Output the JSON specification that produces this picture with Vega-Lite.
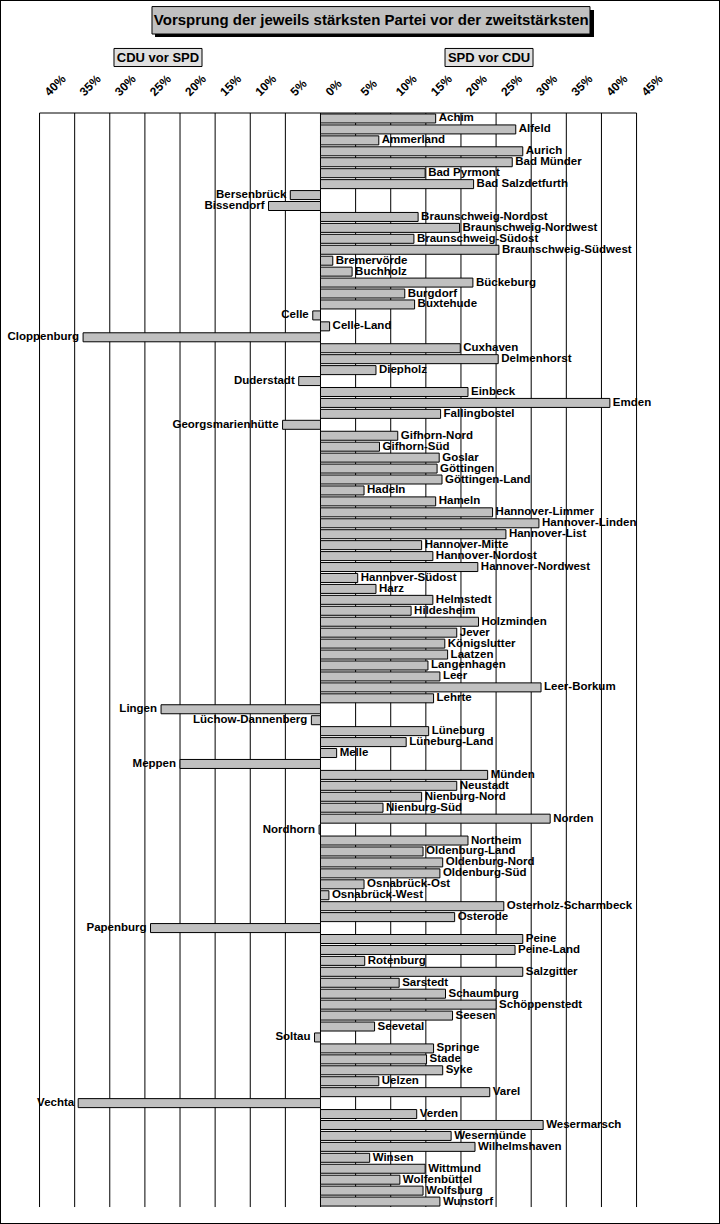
{
  "$schema": "https://vega.github.io/schema/vega-lite/v6.json",
  "width": 720,
  "height": 1224,
  "autosize": {"type": "fit", "contains": "padding"},
  "padding": 0,
  "background": "white",
  "config": {"view": {"stroke": "black", "strokeWidth": 2}, "font": "Liberation Sans", "axis": {"disable": true}},
  "datasets": {
    "wk": [
      {"name": "Achim", "v": 16.4},
      {"name": "Alfeld", "v": 27.8},
      {"name": "Ammerland", "v": 8.3},
      {"name": "Aurich", "v": 28.8},
      {"name": "Bad Münder", "v": 27.3},
      {"name": "Bad Pyrmont", "v": 14.9},
      {"name": "Bad Salzdetfurth", "v": 21.8},
      {"name": "Bersenbrück", "v": -4.3},
      {"name": "Bissendorf", "v": -7.4},
      {"name": "Braunschweig-Nordost", "v": 13.9},
      {"name": "Braunschweig-Nordwest", "v": 19.8},
      {"name": "Braunschweig-Südost", "v": 13.3},
      {"name": "Braunschweig-Südwest", "v": 25.4},
      {"name": "Bremervörde", "v": 1.75},
      {"name": "Buchholz", "v": 4.5},
      {"name": "Bückeburg", "v": 21.7},
      {"name": "Burgdorf", "v": 12.0},
      {"name": "Buxtehude", "v": 13.4},
      {"name": "Celle", "v": -1.1},
      {"name": "Celle-Land", "v": 1.3},
      {"name": "Cloppenburg", "v": -33.8},
      {"name": "Cuxhaven", "v": 19.9},
      {"name": "Delmenhorst", "v": 25.3},
      {"name": "Diepholz", "v": 7.9},
      {"name": "Duderstadt", "v": -3.1},
      {"name": "Einbeck", "v": 21.0},
      {"name": "Emden", "v": 41.2},
      {"name": "Fallingbostel", "v": 17.1},
      {"name": "Georgsmarienhütte", "v": -5.4},
      {"name": "Gifhorn-Nord", "v": 11.0},
      {"name": "Gifhorn-Süd", "v": 8.4},
      {"name": "Goslar", "v": 16.9},
      {"name": "Göttingen", "v": 16.6},
      {"name": "Göttingen-Land", "v": 17.3},
      {"name": "Hadeln", "v": 6.2},
      {"name": "Hameln", "v": 16.4},
      {"name": "Hannover-Limmer", "v": 24.5},
      {"name": "Hannover-Linden", "v": 31.1},
      {"name": "Hannover-List", "v": 26.4},
      {"name": "Hannover-Mitte", "v": 14.4},
      {"name": "Hannover-Nordost", "v": 16.0},
      {"name": "Hannover-Nordwest", "v": 22.4},
      {"name": "Hannover-Südost", "v": 5.3},
      {"name": "Harz", "v": 7.9},
      {"name": "Helmstedt", "v": 16.0},
      {"name": "Hildesheim", "v": 12.9},
      {"name": "Holzminden", "v": 22.5},
      {"name": "Jever", "v": 19.4},
      {"name": "Königslutter", "v": 17.7},
      {"name": "Laatzen", "v": 18.1},
      {"name": "Langenhagen", "v": 15.3},
      {"name": "Leer", "v": 17.0},
      {"name": "Leer-Borkum", "v": 31.4},
      {"name": "Lehrte", "v": 16.1},
      {"name": "Lingen", "v": -22.7},
      {"name": "Lüchow-Dannenberg", "v": -1.3},
      {"name": "Lüneburg", "v": 15.4},
      {"name": "Lüneburg-Land", "v": 12.2},
      {"name": "Melle", "v": 2.3},
      {"name": "Meppen", "v": -20.0},
      {"name": "Münden", "v": 23.8},
      {"name": "Neustadt", "v": 19.4},
      {"name": "Nienburg-Nord", "v": 14.4},
      {"name": "Nienburg-Süd", "v": 8.9},
      {"name": "Norden", "v": 32.7},
      {"name": "Nordhorn", "v": -0.2},
      {"name": "Northeim", "v": 21.0},
      {"name": "Oldenburg-Land", "v": 14.6},
      {"name": "Oldenburg-Nord", "v": 17.4},
      {"name": "Oldenburg-Süd", "v": 17.0},
      {"name": "Osnabrück-Ost", "v": 6.2},
      {"name": "Osnabrück-West", "v": 1.2},
      {"name": "Osterholz-Scharmbeck", "v": 26.1},
      {"name": "Osterode", "v": 19.1},
      {"name": "Papenburg", "v": -24.2},
      {"name": "Peine", "v": 28.8},
      {"name": "Peine-Land", "v": 27.7},
      {"name": "Rotenburg", "v": 6.3},
      {"name": "Salzgitter", "v": 28.8},
      {"name": "Sarstedt", "v": 11.2},
      {"name": "Schaumburg", "v": 17.8},
      {"name": "Schöppenstedt", "v": 25.0},
      {"name": "Seesen", "v": 18.8},
      {"name": "Seevetal", "v": 7.7},
      {"name": "Soltau", "v": -0.85},
      {"name": "Springe", "v": 16.1},
      {"name": "Stade", "v": 15.1},
      {"name": "Syke", "v": 17.4},
      {"name": "Uelzen", "v": 8.3},
      {"name": "Varel", "v": 24.1},
      {"name": "Vechta", "v": -34.5},
      {"name": "Verden", "v": 13.7},
      {"name": "Wesermarsch", "v": 31.7},
      {"name": "Wesermünde", "v": 18.6},
      {"name": "Wilhelmshaven", "v": 22.0},
      {"name": "Winsen", "v": 7.0},
      {"name": "Wittmund", "v": 14.9},
      {"name": "Wolfenbüttel", "v": 11.3},
      {"name": "Wolfsburg", "v": 14.6},
      {"name": "Wunstorf", "v": 17.0}
    ],
    "ticks": [
      {"t": -40, "label": "40%"}, {"t": -35, "label": "35%"}, {"t": -30, "label": "30%"},
      {"t": -25, "label": "25%"}, {"t": -20, "label": "20%"}, {"t": -15, "label": "15%"},
      {"t": -10, "label": "10%"}, {"t": -5, "label": "5%"}, {"t": 0, "label": "0%"},
      {"t": 5, "label": "5%"}, {"t": 10, "label": "10%"}, {"t": 15, "label": "15%"},
      {"t": 20, "label": "20%"}, {"t": 25, "label": "25%"}, {"t": 30, "label": "30%"},
      {"t": 35, "label": "35%"}, {"t": 40, "label": "40%"}, {"t": 45, "label": "45%"}
    ]
  },
  "layer": [
    {
      "data": {"name": "ticks"},
      "mark": {"type": "rule", "color": "black", "strokeWidth": 1},
      "encoding": {
        "x": {"field": "t", "type": "quantitative", "axis": null,
              "scale": {"domain": [-45.63, 56.88], "nice": false, "zero": false, "padding": 0}},
        "y": {"datum": 0.5, "type": "quantitative", "axis": null,
              "scale": {"domain": [-9.83, 102.05], "reverse": true, "nice": false, "zero": false, "padding": 0}},
        "y2": {"datum": 100.5}
      }
    },
    {
      "data": {"values": [{}]},
      "mark": {"type": "rule", "color": "black", "strokeWidth": 1},
      "encoding": {
        "x": {"datum": -40, "type": "quantitative"},
        "x2": {"datum": 45},
        "y": {"datum": 0.5, "type": "quantitative"}
      }
    },
    {
      "data": {"name": "wk"},
      "transform": [{"window": [{"op": "row_number", "as": "r"}]}],
      "mark": {"type": "bar", "orient": "horizontal", "size": 9, "fill": "#c0c0c0", "stroke": "black", "strokeWidth": 1},
      "encoding": {
        "y": {"field": "r", "type": "quantitative"},
        "x": {"field": "v", "type": "quantitative"},
        "x2": {"datum": 0}
      }
    },
    {
      "data": {"name": "wk"},
      "transform": [{"window": [{"op": "row_number", "as": "r"}]}, {"filter": "datum.v >= 0"}],
      "mark": {"type": "text", "align": "left", "baseline": "middle", "dx": 3, "dy": 0,
               "fontWeight": "bold", "fontSize": 11.5, "color": "black"},
      "encoding": {
        "y": {"field": "r", "type": "quantitative"},
        "x": {"field": "v", "type": "quantitative"},
        "text": {"field": "name"}
      }
    },
    {
      "data": {"name": "wk"},
      "transform": [{"window": [{"op": "row_number", "as": "r"}]}, {"filter": "datum.v < 0"}],
      "mark": {"type": "text", "align": "right", "baseline": "middle", "dx": -4, "dy": 0,
               "fontWeight": "bold", "fontSize": 11.5, "color": "black"},
      "encoding": {
        "y": {"field": "r", "type": "quantitative"},
        "x": {"field": "v", "type": "quantitative"},
        "text": {"field": "name"}
      }
    },
    {
      "data": {"values": [{}]},
      "mark": {"type": "rect", "fill": "black"},
      "encoding": {
        "x": {"datum": -23.56, "type": "quantitative"},
        "x2": {"datum": 38.94},
        "y": {"datum": -8.92, "type": "quantitative"},
        "y2": {"datum": -6.45}
      }
    },
    {
      "data": {"values": [{}]},
      "mark": {"type": "rect", "fill": "#c0c0c0", "stroke": "black", "strokeWidth": 1},
      "encoding": {
        "x": {"datum": -23.99, "type": "quantitative"},
        "x2": {"datum": 38.37},
        "y": {"datum": -9.23, "type": "quantitative"},
        "y2": {"datum": -6.72}
      }
    },
    {
      "data": {"values": [{}]},
      "mark": {"type": "text", "align": "center", "baseline": "middle", "fontWeight": "bold", "fontSize": 15, "color": "black"},
      "encoding": {
        "x": {"datum": 7.23, "type": "quantitative"},
        "y": {"datum": -7.96, "type": "quantitative"},
        "text": {"value": "Vorsprung der jeweils stärksten Partei vor der zweitstärksten"}
      }
    },
    {
      "data": {"values": [{}]},
      "mark": {"type": "rect", "fill": "#e0e0e0", "stroke": "black", "strokeWidth": 1},
      "encoding": {
        "x": {"datum": -29.4, "type": "quantitative"},
        "x2": {"datum": -16.87},
        "y": {"datum": -5.40, "type": "quantitative"},
        "y2": {"datum": -3.75}
      }
    },
    {
      "data": {"values": [{}]},
      "mark": {"type": "rect", "fill": "#e0e0e0", "stroke": "black", "strokeWidth": 1},
      "encoding": {
        "x": {"datum": 17.73, "type": "quantitative"},
        "x2": {"datum": 30.26},
        "y": {"datum": -5.40, "type": "quantitative"},
        "y2": {"datum": -3.75}
      }
    },
    {
      "data": {"values": [{}]},
      "mark": {"type": "text", "align": "center", "baseline": "middle", "fontWeight": "bold", "fontSize": 13, "color": "black"},
      "encoding": {
        "x": {"datum": -23.14, "type": "quantitative"},
        "y": {"datum": -4.53, "type": "quantitative"},
        "text": {"value": "CDU vor SPD"}
      }
    },
    {
      "data": {"values": [{}]},
      "mark": {"type": "text", "align": "center", "baseline": "middle", "fontWeight": "bold", "fontSize": 13, "color": "black"},
      "encoding": {
        "x": {"datum": 24.0, "type": "quantitative"},
        "y": {"datum": -4.53, "type": "quantitative"},
        "text": {"value": "SPD vor CDU"}
      }
    },
    {
      "data": {"name": "ticks"},
      "mark": {"type": "text", "align": "left", "baseline": "alphabetic", "angle": 315, "dx": 5, "dy": 9, "fontWeight": "bold", "fontSize": 12, "color": "black"},
      "encoding": {
        "x": {"field": "t", "type": "quantitative"},
        "y": {"datum": -1.24, "type": "quantitative"},
        "text": {"field": "label"}
      }
    }
  ]
}
